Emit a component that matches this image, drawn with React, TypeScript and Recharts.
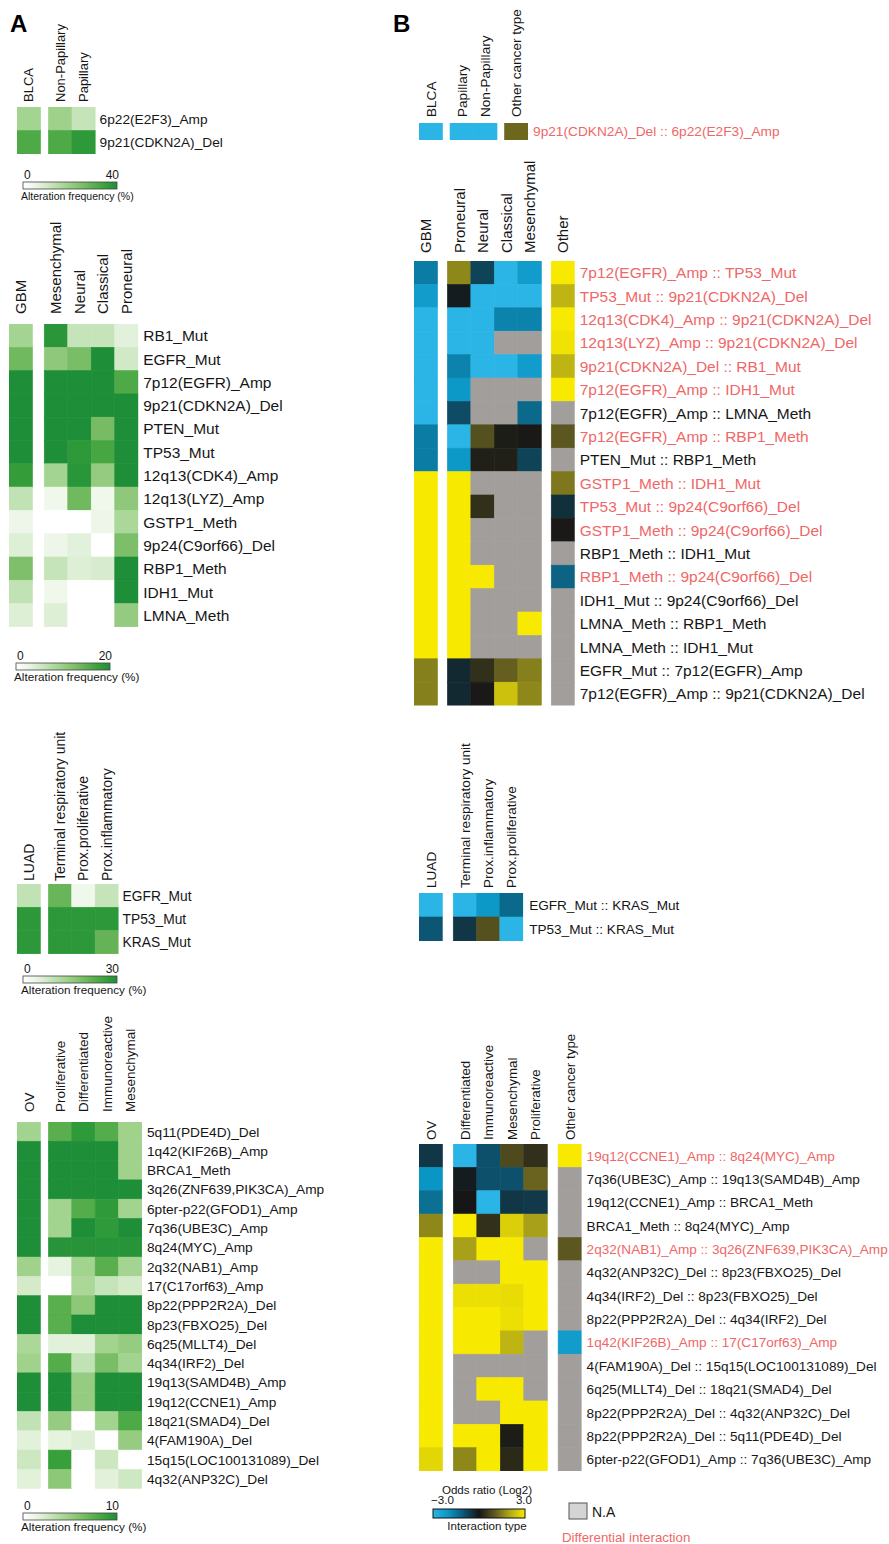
import { ScatterChart, Scatter, XAxis, YAxis } from "recharts";

type Val = number | null;
const N = null;

// ---------- Panel A: alteration frequency (%) ----------
const blcaFreqCols = ["BLCA", "Non-Papillary", "Papillary"];
const blcaFreqRows = ["6p22(E2F3)_Amp", "9p21(CDKN2A)_Del"];
const blcaFreq: Val[][] = [
  [18, 19, 12],
  [32, 32, 37],
];
const blcaFreqTicks = [0, 40];

const gbmFreqCols = ["GBM", "Mesenchymal", "Neural", "Classical", "Proneural"];
const gbmFreqRows = [
  "RB1_Mut",
  "EGFR_Mut",
  "7p12(EGFR)_Amp",
  "9p21(CDKN2A)_Del",
  "PTEN_Mut",
  "TP53_Mut",
  "12q13(CDK4)_Amp",
  "12q13(LYZ)_Amp",
  "GSTP1_Meth",
  "9p24(C9orf66)_Del",
  "RBP1_Meth",
  "IDH1_Mut",
  "LMNA_Meth",
];
const gbmFreq: Val[][] = [
  [9, 19, 6, 6, 3.5],
  [13.5, 11, 12.8, 20, 5],
  [20, 20, 20, 20, 16],
  [20, 20, 20, 20, 20],
  [20, 20, 20, 13, 20],
  [20, 20, 18.6, 16.6, 20],
  [18, 9, 19, 10.5, 20],
  [6.4, 2, 13.5, 2, 11],
  [2.4, 0, 0, 2.4, 8.4],
  [4, 2.4, 3.5, 0, 12.6],
  [12.4, 6, 4, 4.5, 20],
  [6.4, 2, 0, 0, 20],
  [4, 4, 0, 0, 10.5],
];
const gbmFreqTicks = [0, 20];

const luadFreqCols = ["LUAD", "Terminal respiratory unit", "Prox.proliferative", "Prox.inflammatory"];
const luadFreqRows = ["EGFR_Mut", "TP53_Mut", "KRAS_Mut"];
const luadFreq: Val[][] = [
  [9.6, 21, 3, 9],
  [28, 28, 28, 28],
  [28, 28, 28, 21.5],
];
const luadFreqTicks = [0, 30];

const ovFreqCols = ["OV", "Proliferative", "Differentiated", "Immunoreactive", "Mesenchymal"];
const ovFreqRows = [
  "5q11(PDE4D)_Del",
  "1q42(KIF26B)_Amp",
  "BRCA1_Meth",
  "3q26(ZNF639,PIK3CA)_Amp",
  "6pter-p22(GFOD1)_Amp",
  "7q36(UBE3C)_Amp",
  "8q24(MYC)_Amp",
  "2q32(NAB1)_Amp",
  "17(C17orf63)_Amp",
  "8p22(PPP2R2A)_Del",
  "8p23(FBXO25)_Del",
  "6q25(MLLT4)_Del",
  "4q34(IRF2)_Del",
  "19q13(SAMD4B)_Amp",
  "19q12(CCNE1)_Amp",
  "18q21(SMAD4)_Del",
  "4(FAM190A)_Del",
  "15q15(LOC100131089)_Del",
  "4q32(ANP32C)_Del",
];
const ovFreq: Val[][] = [
  [4.6, 7.6, 9.2, 7.8, 4.7],
  [10, 10, 10, 10, 4.7],
  [10, 10, 10, 10, 4.7],
  [10, 10, 10, 10, 10],
  [10, 4.6, 7.8, 9.2, 4.6],
  [10, 4.6, 10, 9.2, 10],
  [10, 9.6, 9.6, 9.6, 9.6],
  [4.7, 1.6, 4.6, 7.6, 4.5],
  [2.4, 0, 4.2, 3, 2.4],
  [10, 7.6, 5.6, 10, 10],
  [10, 7.6, 10, 10, 10],
  [4.2, 1.8, 1.8, 4.6, 5.2],
  [4.7, 7.8, 3.2, 6.4, 4.6],
  [10, 10, 5.2, 10, 10],
  [10, 10, 5.2, 10, 10],
  [3.2, 5.2, 0, 4.6, 8],
  [1.8, 1.6, 2, 0, 5.2],
  [2.7, 8.8, 0, 2.7, 0],
  [1.8, 5.6, 0, 1.8, 2.6],
];
const ovFreqTicks = [0, 10];

// ---------- Panel B: interaction odds ratio (log2), null = N.A ----------
const blcaPairCols = ["BLCA", "Papillary", "Non-Papillary", "Other cancer type"];
const blcaPairRows = ["9p21(CDKN2A)_Del :: 6p22(E2F3)_Amp"];
const blcaOdds: Val[][] = [[-3, -3, -3, 1.2]];
const blcaDiffRows = [0];

const gbmPairCols = ["GBM", "Proneural", "Neural", "Classical", "Mesenchymal", "Other"];
const gbmPairRows = [
  "7p12(EGFR)_Amp :: TP53_Mut",
  "TP53_Mut :: 9p21(CDKN2A)_Del",
  "12q13(CDK4)_Amp :: 9p21(CDKN2A)_Del",
  "12q13(LYZ)_Amp :: 9p21(CDKN2A)_Del",
  "9p21(CDKN2A)_Del :: RB1_Mut",
  "7p12(EGFR)_Amp :: IDH1_Mut",
  "7p12(EGFR)_Amp :: LMNA_Meth",
  "7p12(EGFR)_Amp :: RBP1_Meth",
  "PTEN_Mut :: RBP1_Meth",
  "GSTP1_Meth :: IDH1_Mut",
  "TP53_Mut :: 9p24(C9orf66)_Del",
  "GSTP1_Meth :: 9p24(C9orf66)_Del",
  "RBP1_Meth :: IDH1_Mut",
  "RBP1_Meth :: 9p24(C9orf66)_Del",
  "IDH1_Mut :: 9p24(C9orf66)_Del",
  "LMNA_Meth :: RBP1_Meth",
  "LMNA_Meth :: IDH1_Mut",
  "EGFR_Mut :: 7p12(EGFR)_Amp",
  "7p12(EGFR)_Amp :: 9p21(CDKN2A)_Del",
];
const gbmOdds: Val[][] = [
  [-1.6, 1.6, -0.7, -3, -2.2, 3],
  [-2.2, -0.1, -3, -3, -3, 2.2],
  [-3, -3, -3, -1.7, -1.7, 3],
  [-3, -3, -3, N, N, 2.9],
  [-3, -1.7, -3, -3, -2.2, 2.2],
  [-3, -2.1, N, N, N, 3],
  [-3, -0.85, N, N, -1.3, N],
  [-1.6, -3, 0.9, 0.1, 0.05, 1.0],
  [-1.6, -2.1, 0.15, 0.15, -0.7, N],
  [3, 3, N, N, N, 1.4],
  [3, 3, 0.4, N, N, -0.4],
  [3, 3, N, N, N, 0.05],
  [3, 3, N, N, N, N],
  [3, 3, 3, N, N, -1.2],
  [3, 3, N, N, N, N],
  [3, 3, N, N, 3, N],
  [3, 3, N, N, N, N],
  [1.5, -0.3, 0.4, 1.1, 1.5, N],
  [1.5, -0.3, 0.05, 2.4, 1.6, N],
];
const gbmDiffRows = [0, 1, 2, 3, 4, 5, 7, 9, 10, 11, 13];

const luadPairCols = ["LUAD", "Terminal respiratory unit", "Prox.inflammatory", "Prox.proliferative"];
const luadPairRows = ["EGFR_Mut :: KRAS_Mut", "TP53_Mut :: KRAS_Mut"];
const luadOdds: Val[][] = [
  [-3, -3, -2.1, -1.3],
  [-1.0, -0.5, 0.9, -3],
];

const ovPairCols = ["OV", "Differentiated", "Immunoreactive", "Mesenchymal", "Proliferative", "Other cancer type"];
const ovPairRows = [
  "19q12(CCNE1)_Amp :: 8q24(MYC)_Amp",
  "7q36(UBE3C)_Amp :: 19q13(SAMD4B)_Amp",
  "19q12(CCNE1)_Amp :: BRCA1_Meth",
  "BRCA1_Meth :: 8q24(MYC)_Amp",
  "2q32(NAB1)_Amp :: 3q26(ZNF639,PIK3CA)_Amp",
  "4q32(ANP32C)_Del :: 8p23(FBXO25)_Del",
  "4q34(IRF2)_Del :: 8p23(FBXO25)_Del",
  "8p22(PPP2R2A)_Del :: 4q34(IRF2)_Del",
  "1q42(KIF26B)_Amp :: 17(C17orf63)_Amp",
  "4(FAM190A)_Del :: 15q15(LOC100131089)_Del",
  "6q25(MLLT4)_Del :: 18q21(SMAD4)_Del",
  "8p22(PPP2R2A)_Del :: 4q32(ANP32C)_Del",
  "8p22(PPP2R2A)_Del :: 5q11(PDE4D)_Del",
  "6pter-p22(GFOD1)_Amp :: 7q36(UBE3C)_Amp",
];
const ovOdds: Val[][] = [
  [-0.5, -3, -0.9, 0.8, 0.4, 3],
  [-2.0, -0.1, -0.9, -0.9, 1.15, N],
  [-1.4, 0, -3, -0.5, -0.55, N],
  [1.6, 3, 0.4, 2.6, 1.9, N],
  [3, 1.9, 3, 3, N, 1.0],
  [3, N, N, 3, 3, N],
  [3, 2.85, 2.85, 2.8, 3, N],
  [3, 3, 3, 2.85, 3, N],
  [3, 3, 3, 2.2, N, -2.2],
  [3, N, N, N, N, N],
  [3, N, 3, 3, N, N],
  [3, N, N, 3, 3, N],
  [3, 3, 3, 0.1, 3, N],
  [2.7, 1.6, 3, 0.3, 3, N],
];
const ovDiffRows = [0, 4, 8];

const oddsTicks = ["\u22123.0", "3.0"];

// ---------- colours ----------
const FONT = "Arial, 'Liberation Sans', Helvetica, sans-serif";
const INK = "#161616";
const RED = "#ef6767";
const NA_FILL = "#a29e9c";

const GREEN_STOPS: [number, string][] = [
  [0, "#ffffff"],
  [0.15, "#e8f4e2"],
  [0.3, "#c6e4b9"],
  [0.45, "#a4d491"],
  [0.6, "#84c26f"],
  [0.75, "#5caf4f"],
  [0.88, "#38a03a"],
  [1, "#1e8e38"],
];

const ODDS_STOPS: [number, string][] = [
  [-3, "#2bb5e6"],
  [-2, "#0a96c4"],
  [-1, "#0c5674"],
  [0, "#161616"],
  [1, "#5c5720"],
  [2, "#b0a818"],
  [3, "#f7e900"],
];

function hex(c: string) {
  return [1, 3, 5].map((i) => parseInt(c.slice(i, i + 2), 16));
}

function interp(stops: [number, string][], t: number) {
  const lo = stops[0][0];
  const hi = stops[stops.length - 1][0];
  const u = Math.max(lo, Math.min(hi, t));
  for (let i = 1; i < stops.length; i++) {
    if (u <= stops[i][0]) {
      const [t0, c0] = stops[i - 1];
      const [t1, c1] = stops[i];
      const f = (u - t0) / (t1 - t0 || 1);
      const a = hex(c0);
      const b = hex(c1);
      return `rgb(${a.map((x, k) => Math.round(x + (b[k] - x) * f)).join(",")})`;
    }
  }
  return stops[stops.length - 1][1];
}

const greenScale = (max: number) => (v: number) => interp(GREEN_STOPS, v / max);
const oddsScale = (v: number) => interp(ODDS_STOPS, v);

// ---------- heatmap panel ----------
interface PanelProps {
  left: number;
  top: number;
  cellW: number;
  cellH: number;
  cols: string[];
  rows: string[];
  values: Val[][];
  gapAfter: number[];
  gapUnit: number;
  fill: (v: number) => string;
  labelSize: number;
  headerSize: number;
  headerH: number;
  headerGap: number;
  labelGap: number;
  labelW: number;
  redRows?: number[];
}

function HeatPanel(p: PanelProps) {
  const xs = p.cols.map((_, i) => i + p.gapUnit * p.gapAfter.filter((g) => g < i).length);
  const span = xs[xs.length - 1] + 1;
  const plotW = p.cellW * span;
  const plotH = p.cellH * p.rows.length;
  const rowTicks = p.rows.map((_, i) => i);
  const data = p.values.flatMap((r, ri) => r.map((v, ci) => ({ x: xs[ci], y: ri, v })));
  const red = new Set(p.redRows ?? []);

  const headerTick = (t: any) => {
    const i = xs.findIndex((x) => Math.abs(x - t.payload.value) < 1e-6);
    return (
      <text
        transform={`translate(${t.x + p.headerSize * 0.36},${t.y}) rotate(-90)`}
        fontSize={p.headerSize}
        fontFamily={FONT}
        fill={INK}
        textAnchor="start"
      >
        {p.cols[i]}
      </text>
    );
  };

  const rowTick = (t: any) => {
    const i = Math.round(t.payload.value);
    return (
      <text
        x={t.x}
        y={t.y}
        dy="0.36em"
        fontSize={p.labelSize}
        fontFamily={FONT}
        fill={red.has(i) ? RED : INK}
        textAnchor="start"
      >
        {p.rows[i]}
      </text>
    );
  };

  const cell = (s: any) => {
    const v = s.payload.v as Val;
    const c = v == null ? NA_FILL : p.fill(v);
    return (
      <rect
        x={s.cx - p.cellW / 2}
        y={s.cy - p.cellH / 2}
        width={p.cellW}
        height={p.cellH}
        fill={c}
        stroke={c}
        strokeWidth={0.6}
      />
    );
  };

  return (
    <div style={{ position: "absolute", left: p.left, top: p.top - p.headerH }}>
      <ScatterChart
        width={plotW + p.labelW}
        height={p.headerH + plotH}
        margin={{ top: 0, right: 0, bottom: 0, left: 0 }}
      >
        <XAxis
          type="number"
          dataKey="x"
          orientation="top"
          domain={[-0.5, span - 0.5]}
          ticks={xs}
          interval={0}
          height={p.headerH}
          tickSize={0}
          tickMargin={p.headerGap}
          axisLine={false}
          tickLine={false}
          allowDataOverflow
          tick={headerTick}
        />
        <YAxis
          type="number"
          dataKey="y"
          orientation="right"
          domain={[-0.5, p.rows.length - 0.5]}
          reversed
          ticks={rowTicks}
          interval={0}
          width={p.labelW}
          tickSize={0}
          tickMargin={p.labelGap}
          axisLine={false}
          tickLine={false}
          allowDataOverflow
          tick={rowTick}
        />
        <Scatter data={data} isAnimationActive={false} shape={cell} />
      </ScatterChart>
    </div>
  );
}

// ---------- legends ----------
function gradientStops(stops: [number, string][]) {
  const lo = stops[0][0];
  const hi = stops[stops.length - 1][0];
  return stops.map(([t, c]) => (
    <stop key={t} offset={`${((t - lo) / (hi - lo)) * 100}%`} stopColor={c} />
  ));
}

function FreqLegend({ x, y, ticks, size }: { x: number; y: number; ticks: number[]; size: number }) {
  return (
    <g fontFamily={FONT} fill={INK}>
      <text x={x + 1} y={y - 3} fontSize={12}>
        {ticks[0]}
      </text>
      <text x={x + 96} y={y - 3} fontSize={12} textAnchor="end">
        {ticks[1]}
      </text>
      <rect x={x} y={y} width={94} height={7} fill="url(#greenRamp)" stroke="#444" strokeWidth={0.8} />
      <text x={x - 2} y={y + 18} fontSize={size}>
        Alteration frequency (%)
      </text>
    </g>
  );
}

export default function App() {
  return (
    <div
      style={{
        position: "absolute",
        left: 0,
        top: 0,
        width: 889,
        height: 1544,
        overflow: "hidden",
        background: "#fff",
        fontFamily: FONT,
      }}
    >
      <svg width={889} height={1544} style={{ position: "absolute", left: 0, top: 0 }}>
        <defs>
          <linearGradient id="greenRamp" x1="0" x2="1" y1="0" y2="0">
            {gradientStops(GREEN_STOPS)}
          </linearGradient>
          <linearGradient id="oddsRamp" x1="0" x2="1" y1="0" y2="0">
            {gradientStops(ODDS_STOPS)}
          </linearGradient>
        </defs>
        <text x={10} y={32} fontSize={24} fontWeight="bold" fontFamily={FONT} fill="#000">
          A
        </text>
        <text x={393} y={32} fontSize={24} fontWeight="bold" fontFamily={FONT} fill="#000">
          B
        </text>

        <FreqLegend x={23} y={182} ticks={blcaFreqTicks} size={10.5} />
        <FreqLegend x={16} y={663} ticks={gbmFreqTicks} size={11.7} />
        <FreqLegend x={23} y={976} ticks={luadFreqTicks} size={11.7} />
        <FreqLegend x={23} y={1513} ticks={ovFreqTicks} size={11.7} />

        <g fontFamily={FONT} fill={INK} fontSize={11.6}>
          <text x={487} y={1494} textAnchor="middle">
            Odds ratio (Log2)
          </text>
          <text x={431} y={1504}>
            {oddsTicks[0]}
          </text>
          <text x={532} y={1504} textAnchor="end">
            {oddsTicks[1]}
          </text>
          <rect x={433} y={1509} width={92} height={9} fill="url(#oddsRamp)" stroke="#111" strokeWidth={1} />
          <text x={487} y={1530} textAnchor="middle">
            Interaction type
          </text>
          <rect x={569} y={1503} width={18} height={16} fill="#d4d4d4" stroke="#555" strokeWidth={1} />
          <text x={592} y={1517} fontSize={14}>
            N.A
          </text>
          <text x={562} y={1542} fontSize={13.3} fill={RED}>
            Differential interaction
          </text>
        </g>
      </svg>

      <HeatPanel
        left={17} top={107} cellW={23.6} cellH={23.5}
        cols={blcaFreqCols} rows={blcaFreqRows} values={blcaFreq}
        gapAfter={[0]} gapUnit={0.33} fill={greenScale(blcaFreqTicks[1])}
        labelSize={13.7} headerSize={13} headerH={100} headerGap={5} labelGap={4} labelW={220}
      />
      <HeatPanel
        left={9} top={324} cellW={23.5} cellH={23.3}
        cols={gbmFreqCols} rows={gbmFreqRows} values={gbmFreq}
        gapAfter={[0]} gapUnit={0.5} fill={greenScale(gbmFreqTicks[1])}
        labelSize={15.5} headerSize={15} headerH={130} headerGap={10} labelGap={5} labelW={220}
      />
      <HeatPanel
        left={17} top={884} cellW={23.4} cellH={23.3}
        cols={luadFreqCols} rows={luadFreqRows} values={luadFreq}
        gapAfter={[0]} gapUnit={0.34} fill={greenScale(luadFreqTicks[1])}
        labelSize={13.8} headerSize={14} headerH={170} headerGap={3} labelGap={4} labelW={220}
      />
      <HeatPanel
        left={17} top={1122} cellW={23.4} cellH={19.3}
        cols={ovFreqCols} rows={ovFreqRows} values={ovFreq}
        gapAfter={[0]} gapUnit={0.34} fill={greenScale(ovFreqTicks[1])}
        labelSize={13.7} headerSize={13.5} headerH={150} headerGap={10} labelGap={5} labelW={220}
      />

      <HeatPanel
        left={419} top={123} cellW={23.5} cellH={17}
        cols={blcaPairCols} rows={blcaPairRows} values={blcaOdds}
        gapAfter={[0, 2]} gapUnit={0.32} fill={oddsScale}
        labelSize={13.7} headerSize={13.6} headerH={120} headerGap={6} labelGap={5} labelW={340}
        redRows={blcaDiffRows}
      />
      <HeatPanel
        left={414} top={261} cellW={23.5} cellH={23.4}
        cols={gbmPairCols} rows={gbmPairRows} values={gbmOdds}
        gapAfter={[0, 4]} gapUnit={0.42} fill={oddsScale}
        labelSize={15.5} headerSize={15} headerH={130} headerGap={8} labelGap={5} labelW={320}
        redRows={gbmDiffRows}
      />
      <HeatPanel
        left={419} top={893} cellW={23.3} cellH={24}
        cols={luadPairCols} rows={luadPairRows} values={luadOdds}
        gapAfter={[0]} gapUnit={0.47} fill={oddsScale}
        labelSize={13.6} headerSize={13.6} headerH={170} headerGap={5} labelGap={6} labelW={340}
      />
      <HeatPanel
        left={419} top={1144} cellW={23.5} cellH={23.36}
        cols={ovPairCols} rows={ovPairRows} values={ovOdds}
        gapAfter={[0, 4]} gapUnit={0.46} fill={oddsScale}
        labelSize={13.6} headerSize={13.4} headerH={150} headerGap={4} labelGap={5} labelW={320}
        redRows={ovDiffRows}
      />
    </div>
  );
}
